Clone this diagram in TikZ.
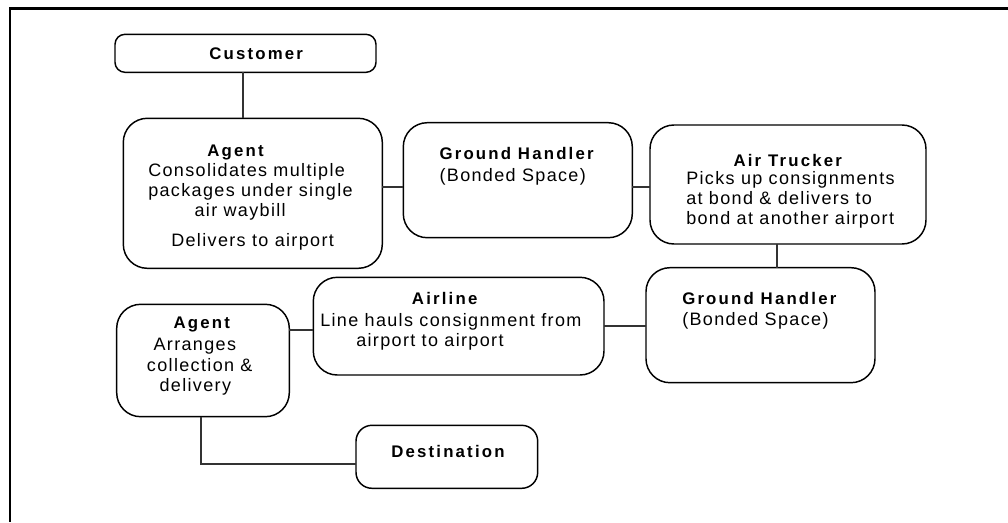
\documentclass[tikz,border=0pt]{standalone}
\usepackage{fontspec}
\setmainfont{Liberation Sans}
\newfontfamily\bodyfont[LetterSpace=7.5]{Liberation Sans}
\newfontfamily\titlefont[LetterSpace=13]{Liberation Sans}
\begin{document}
\begin{tikzpicture}[x=0.75pt,y=-0.75pt,
  box/.style={draw=black, line width=1.1pt, rounded corners=#1, inner sep=0pt},
  box/.default=18pt,
  txt/.style={anchor=base west, inner sep=0pt, font=\bodyfont\fontsize{13.5pt}{16pt}\selectfont},
  ttl/.style={anchor=base west, inner sep=0pt, font=\titlefont\bfseries\fontsize{12.6pt}{15pt}\selectfont},
  conn/.style={draw=black!80, line width=0.9pt}]
\useasboundingbox (0,0) rectangle (1008,522);
% frame (top and left only)
\draw[line width=2.2pt] (1008,8.7) -- (10,8.7) -- (10,522);

% boxes
\draw[box=7.5pt] (115,34.3) rectangle (376,72.3) node[pos=0.5, inner sep=0] (cust) {};
\draw[box] (123.3,118.3) rectangle (382.3,268.3) node[pos=0.5, inner sep=0] (a1) {};
\draw[box] (403.3,122.7) rectangle (632.3,237.7) node[pos=0.5, inner sep=0] (gh1) {};
\draw[box] (650,125) rectangle (926,244) node[pos=0.5, inner sep=0] (at) {};
\draw[box] (646,267.7) rectangle (875,382.7) node[pos=0.5, inner sep=0] (gh2) {};
\draw[box] (313.3,277.3) rectangle (604,375) node[pos=0.5, inner sep=0] (air) {};
\draw[box] (116.7,304.3) rectangle (289.3,416.7) node[pos=0.5, inner sep=0] (a2) {};
\draw[box=12pt] (356,425.3) rectangle (537.7,488.3) node[pos=0.5, inner sep=0] (dest) {};

% texts
\node[ttl] (tcust) at (209,59.3) {Customer};
\node[ttl] (ta1) at (207,156.7) {Agent};
\node[txt] (ta1a) at (148,176.7) {Consolidates multiple};
\node[txt] (ta1b) at (148,196.7) {packages under single};
\node[txt] (ta1c) at (194.3,216.7) {air waybill};
\node[txt] (ta1d) at (171,246.7) {Delivers to airport};
\node[ttl] (tgh1) at (439.3,159.3) {Ground Handler};
\node[txt] (tgh1a) at (439.3,181.7) {(Bonded Space)};
\node[ttl] (tat) at (733.3,166) {Air Trucker};
\node[txt] (tata) at (686,184) {Picks up consignments};
\node[txt] (tatb) at (686,204) {at bond \& delivers to};
\node[txt] (tatc) at (686,224) {bond at another airport};
\node[ttl] (tgh2) at (682,304) {Ground Handler};
\node[txt] (tgh2a) at (682,325.7) {(Bonded Space)};
\node[ttl] (tair) at (411.7,304.3) {Airline};
\node[txt] (taira) at (320,326) {Line hauls consignment from};
\node[txt] (tairb) at (356,346.7) {airport to airport};
\node[ttl] (ta2) at (173.3,328.3) {Agent};
\node[txt] (ta2a) at (153.3,350.7) {Arranges};
\node[txt] (ta2b) at (146.7,371.7) {collection \&};
\node[txt] (ta2c) at (159.3,391.7) {delivery};
\node[ttl] (tdest) at (391,457.3) {Destination};

% connector levels
\coordinate (xA) at (243,0);
\coordinate (yB) at (0,187);
\coordinate (xC) at (777,0);
\coordinate (yD) at (0,326);
\coordinate (yE) at (0,330);
\coordinate (xF) at (201,0);
\coordinate (yF) at (0,464);

\path (115,72.3) coordinate (custS) (123.3,118.3) coordinate (a1N)
      (382.3,268.3) coordinate (a1E) (403.3,122.7) coordinate (gh1W)
      (632.3,0) coordinate (gh1E) (650,0) coordinate (atW)
      (0,244) coordinate (atS) (0,267.7) coordinate (gh2N)
      (646,0) coordinate (gh2W) (604,0) coordinate (airE)
      (313.3,0) coordinate (airW) (289.3,0) coordinate (a2E)
      (0,416.7) coordinate (a2S) (356,0) coordinate (destW);

\draw[conn] (xA |- custS) -- (xA |- a1N);
\draw[conn] (a1E |- yB) -- (gh1W |- yB);
\draw[conn] (gh1E |- yB) -- (atW |- yB);
\draw[conn] (xC |- atS) -- (xC |- gh2N);
\draw[conn] (airE |- yD) -- (gh2W |- yD);
\draw[conn] (a2E |- yE) -- (airW |- yE);
\draw[conn] (xF |- a2S) -- (xF |- yF) -- (destW |- yF);
\end{tikzpicture}
\end{document}
